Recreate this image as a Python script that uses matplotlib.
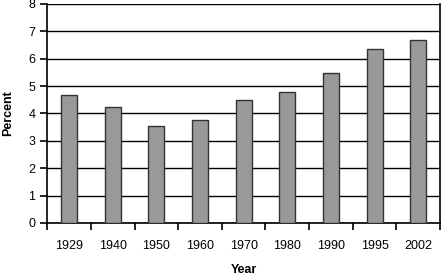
import numpy as np
import matplotlib.pyplot as plt

plt.rcParams['font.family'] = ['Liberation Sans', 'DejaVu Sans']

years = ["1929", "1940", "1950", "1960", "1970", "1980", "1990", "1995", "2002"]
percent = [4.68, 4.23, 3.54, 3.76, 4.49, 4.78, 5.47, 6.35, 6.68]

fig = plt.figure(figsize=(4.41, 2.77), dpi=100)
ax = fig.add_axes([0.107, 0.195, 0.891, 0.791])

x = np.arange(len(years))
ax.bar(x, percent, width=0.37, color="#999999", edgecolor="#333333", linewidth=1.0, zorder=3)

ax.set_ylim(0, 8)
ax.set_xlim(-0.5, len(years) - 0.5)
ax.set_yticks(range(0, 9))
ax.yaxis.grid(True, color="black", linewidth=1.0, zorder=0)

# ticks between categories, labels at centers
ax.set_xticks(np.arange(-0.5, len(years)), minor=False)
ax.set_xticklabels([])
ax.set_xticks(x, minor=True)
ax.set_xticklabels(years, minor=True)
ax.tick_params(axis="x", which="major", length=5, width=1.2, direction="out")
ax.tick_params(axis="x", which="minor", length=0, pad=12, labelsize=9)
ax.tick_params(axis="y", length=5, width=1.2, labelsize=9)

for side in ["left", "right", "bottom", "top"]:
    ax.spines[side].set_linewidth(1.2)
ax.spines["top"].set_visible(False)

ax.set_ylabel("Percent", fontweight="bold", fontsize=9, labelpad=10)
ax.set_xlabel("Year", fontweight="bold", fontsize=9, labelpad=9)

fig.savefig("out.png", dpi=100)
